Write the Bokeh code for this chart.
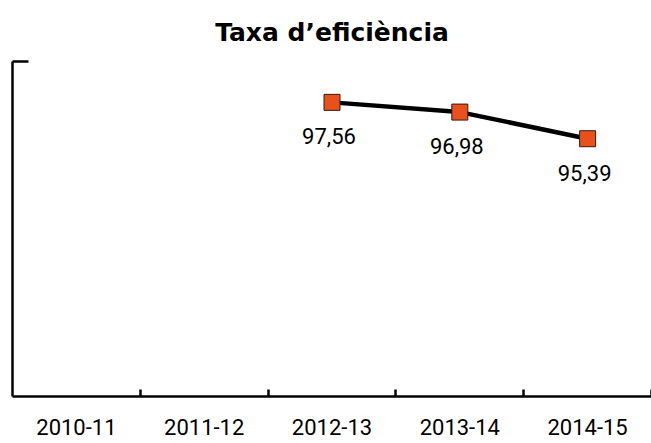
from bokeh.plotting import figure
from bokeh.models import (Range1d, FixedTicker, LinearAxis, CustomJSTickFormatter,
                          ColumnDataSource)
from bokeh.core.properties import value
from bokeh.embed import file_html
from bokeh.resources import INLINE

title = "Taxa d’eficiència"
courses = ["2010-11", "2011-12", "2012-13", "2013-14", "2014-15"]
efficiency = [None, None, 97.56, 96.98, 95.39]
y_min, y_max = 80, 100

xs = [i + 0.5 for i, v in enumerate(efficiency) if v is not None]
ys = [v for v in efficiency if v is not None]
labels = [f"{v:.2f}".replace(".", ",") for v in ys]
src = ColumnDataSource(dict(x=xs, y=ys, label=labels))

p = figure(width=651, height=443,
           x_range=Range1d(0, len(courses)), y_range=Range1d(y_min, y_max),
           output_backend="svg", toolbar_location=None,
           x_axis_type=None, y_axis_type=None,
           min_border_left=12, min_border_right=0, min_border_top=60, min_border_bottom=47)
p.outline_line_color = None
p.background_fill_color = "white"
p.border_fill_color = "white"

p.title.text = title
p.title.align = "center"
p.title.text_font = "DejaVu Sans"
p.title.text_font_style = "bold"
p.title.text_font_size = "25px"
p.title.text_color = "black"
p.title.standoff = 30

xaxis = LinearAxis(
    ticker=FixedTicker(ticks=[i + 0.5 for i in range(len(courses))],
                       minor_ticks=list(range(1, len(courses) + 1))),
    formatter=CustomJSTickFormatter(args=dict(labels=courses),
                                    code="return labels[Math.floor(tick)] || '';"))
xaxis.axis_line_width = 2.5
xaxis.axis_line_color = "black"
xaxis.major_tick_in = 0
xaxis.major_tick_out = 0
xaxis.minor_tick_in = 7
xaxis.minor_tick_out = 0
xaxis.minor_tick_line_width = 2.5
xaxis.minor_tick_line_color = "black"
xaxis.major_label_standoff = 22
xaxis.major_label_text_font = "Roboto"
xaxis.major_label_text_font_size = "22px"
xaxis.major_label_text_color = "black"
p.add_layout(xaxis, "below")

yaxis = LinearAxis(ticker=FixedTicker(ticks=[y_max]),
                   formatter=CustomJSTickFormatter(code="return '';"))
yaxis.axis_line_width = 2.5
yaxis.axis_line_color = "black"
yaxis.major_tick_in = 16
yaxis.major_tick_out = 0
yaxis.major_tick_line_width = 2.5
yaxis.major_tick_line_color = "black"
yaxis.minor_tick_line_color = None
yaxis.major_label_standoff = 0
p.add_layout(yaxis, "left")

p.line("x", "y", source=src, line_color="black", line_width=4.5)
p.scatter("x", "y", source=src, marker="square", size=16,
          fill_color="#E8501E", line_color="#3a1a0a", line_width=1)

p.text("x", "y", text="label", source=src,
       text_align="center", text_baseline="alphabetic",
       y_offset=34, x_offset=-3,
       text_font=value("Roboto"), text_font_size="22px", text_color="black")

open("out.html", "w").write(file_html(p, INLINE))
